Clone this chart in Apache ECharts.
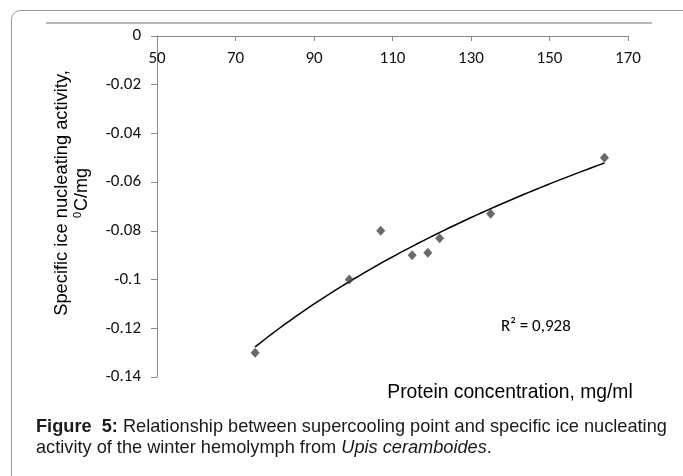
<!DOCTYPE html>
<html>
<head>
<meta charset="utf-8">
<script src="https://cdn.jsdelivr.net/npm/echarts@6/dist/echarts.min.js"></script>
<style>
html,body{margin:0;padding:0;background:#fff;}
#c{width:683px;height:476px;}
</style>
</head>
<body>
<div id="c"></div>
<script>
// Data
const proteinConc = [75, 99, 107, 115, 119, 122, 135, 164];
const iceActivity = [-0.13, -0.1, -0.08, -0.09, -0.089, -0.083, -0.073, -0.05];
const xTicks = [50, 70, 90, 110, 130, 150, 170];
const yTicks = [0, -0.02, -0.04, -0.06, -0.08, -0.1, -0.12, -0.14];
const r2Label = 'R\u00b2 = 0,928';

// Logarithmic trendline fitted (least squares) to the data points
function logFit(xs, ys) {
  const lx = xs.map(Math.log);
  const n = xs.length;
  const mx = lx.reduce((a, b) => a + b, 0) / n;
  const my = ys.reduce((a, b) => a + b, 0) / n;
  let sxy = 0, sxx = 0;
  for (let i = 0; i < n; i++) { sxy += (lx[i] - mx) * (ys[i] - my); sxx += (lx[i] - mx) * (lx[i] - mx); }
  const a = sxy / sxx;
  return { a: a, b: my - a * mx };
}
const fit = logFit(proteinConc, iceActivity);
const xMinD = Math.min(...proteinConc), xMaxD = Math.max(...proteinConc);
const trend = [];
for (let i = 0; i <= 60; i++) {
  const x = xMinD + (xMaxD - xMinD) * i / 60;
  trend.push([x, fit.a * Math.log(x) + fit.b]);
}

const tickFont = 'Carlito, "Liberation Sans Narrow", "Liberation Sans", sans-serif';
const arial = '"Liberation Sans", Arial, sans-serif';
const chart = echarts.init(document.getElementById('c'), null, { renderer: 'canvas' });
chart.setOption({
  animation: false,
  backgroundColor: '#fff',
  grid: { left: 157, top: 36, width: 471, height: 341, containLabel: false },
  xAxis: {
    type: 'value', position: 'top', min: xTicks[0], max: xTicks[xTicks.length - 1], interval: 20,
    axisLine: { show: true, onZero: false, lineStyle: { color: '#888', width: 1 } },
    axisTick: { show: true, inside: true, length: 5, lineStyle: { color: '#888' } },
    axisLabel: { inside: true, margin: 14, color: '#111', fontSize: 17, fontFamily: tickFont,
      formatter: v => String(xTicks.find(t => Math.abs(t - v) < 1e-9) ?? v) },
    splitLine: { show: false }
  },
  yAxis: {
    type: 'value', min: yTicks[yTicks.length - 1], max: yTicks[0], interval: 0.02,
    axisLine: { show: true, onZero: false, lineStyle: { color: '#888', width: 1 } },
    axisTick: { show: true, inside: false, length: 6, lineStyle: { color: '#888' } },
    axisLabel: { margin: 16, color: '#111', fontSize: 17, fontFamily: tickFont,
      formatter: v => { const t = yTicks.find(t => Math.abs(t - v) < 1e-9); return t === undefined ? '' : String(t); } },
    splitLine: { show: false }
  },
  series: [
    { type: 'line', data: trend, showSymbol: false, symbol: 'none', smooth: false,
      lineStyle: { color: '#000', width: 1.5 }, z: 2 },
    { type: 'scatter', data: proteinConc.map((x, i) => [x, iceActivity[i]]),
      symbol: 'diamond', symbolSize: [9, 10], itemStyle: { color: '#454545' }, z: 3 }
  ],
  graphic: [
    { type: 'rect', shape: { x: 11.5, y: 10.5, width: 700, height: 500, r: 9 },
      style: { fill: 'none', stroke: '#9a9a9a', lineWidth: 1 }, silent: true },
    { type: 'rect', shape: { x: 46, y: 22, width: 606, height: 2 },
      style: { fill: '#b8b8b8' }, silent: true },
    { type: 'text', x: 62, y: 193, rotation: Math.PI / 2,
      style: { text: 'Specific ice nucleating activity,', font: '18.3px ' + arial,
        fill: '#000', align: 'center', verticalAlign: 'middle' } },
    { type: 'text', x: 82, y: 193, rotation: Math.PI / 2,
      style: { text: '{s|0}C/mg', fill: '#000', align: 'center', verticalAlign: 'middle',
        font: '18px ' + arial,
        rich: { s: { fontSize: 11, fontFamily: arial, verticalAlign: 'top', padding: [0, 1, 8, 0] } } } },
    { type: 'text', x: 510, y: 393,
      style: { text: 'Protein concentration, mg/ml', font: '19.3px ' + arial,
        fill: '#000', align: 'center', verticalAlign: 'middle' } },
    { type: 'text', x: 501, y: 327,
      style: { text: r2Label, font: '17px ' + tickFont, fill: '#000', align: 'left', verticalAlign: 'middle' } },
    { type: 'text', x: 36, y: 427,
      style: { text: '{b|Figure  5:} Relationship between supercooling point and specific ice nucleating',
        font: '18.2px ' + arial, fill: '#1a1a1a', align: 'left', verticalAlign: 'middle',
        rich: { b: { fontWeight: 'bold', fontSize: 18.2, fontFamily: arial, fill: '#1a1a1a' } } } },
    { type: 'text', x: 36, y: 448,
      style: { text: 'activity of the winter hemolymph from {i|Upis ceramboides}.',
        font: '18.2px ' + arial, fill: '#1a1a1a', align: 'left', verticalAlign: 'middle',
        rich: { i: { fontStyle: 'italic', fontSize: 18.2, fontFamily: arial, fill: '#1a1a1a' } } } }
  ]
});
</script>
</body>
</html>
